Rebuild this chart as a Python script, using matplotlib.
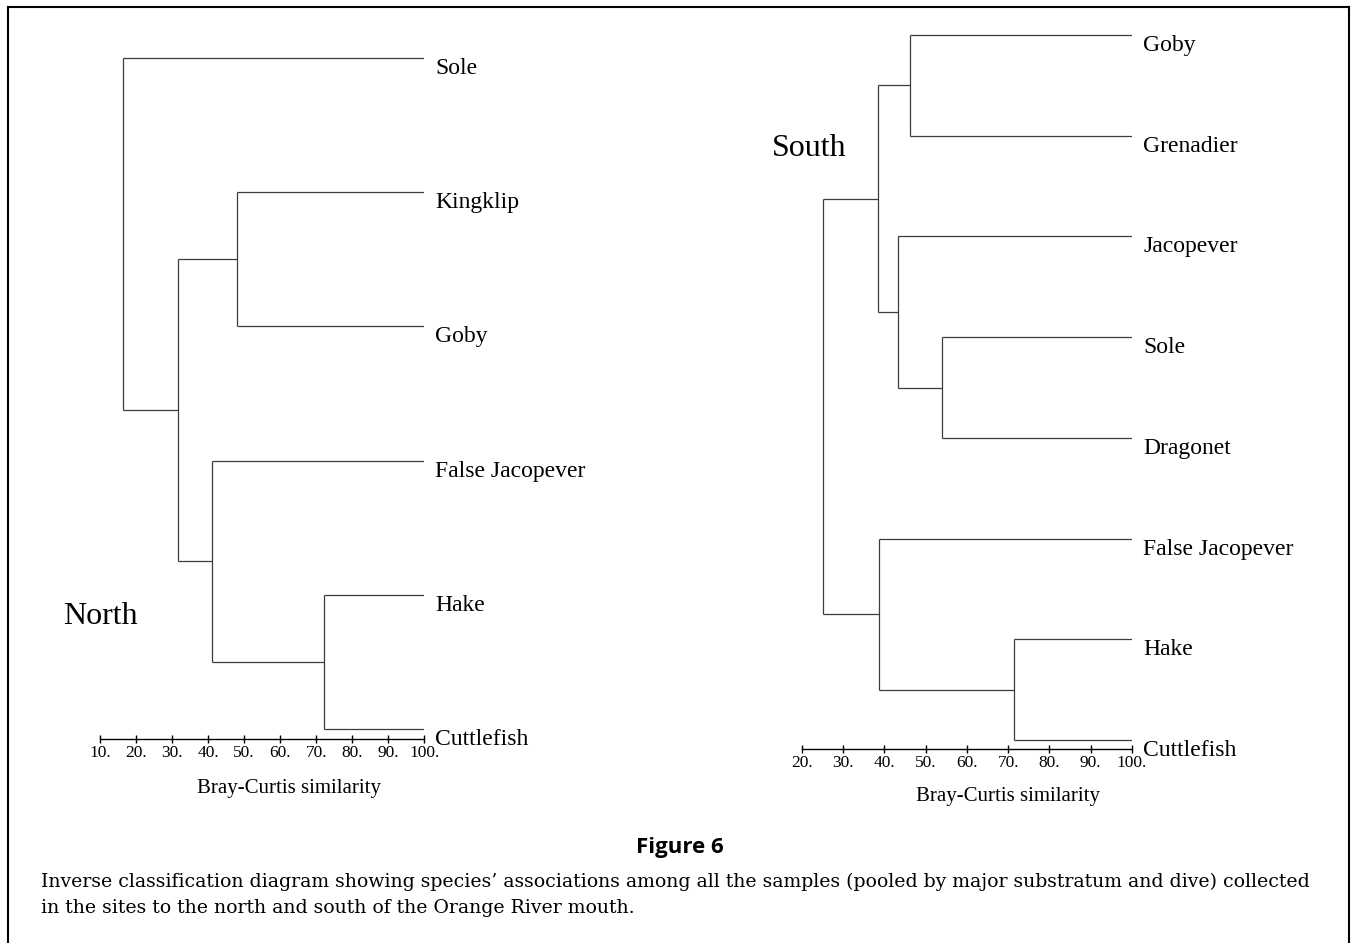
import matplotlib

matplotlib.use("Agg")
import matplotlib.pyplot as plt  # noqa: E402
from matplotlib.lines import Line2D  # noqa: E402
from matplotlib.ticker import FormatStrFormatter  # noqa: E402

SERIF = ["Liberation Serif", "DejaVu Serif"]
LINE = "#3c3c3c"

# --- data: leaves (top to bottom) and merges (a, b, similarity); ids >= n are earlier merges ---
north_leaves = ["Sole", "Kingklip", "Goby", "False Jacopever", "Hake", "Cuttlefish"]
north_merges = [(4, 5, 72.2), (1, 2, 48.1), (3, 6, 41.1), (7, 8, 31.7), (0, 9, 16.4)]
north_ticks = [10, 20, 30, 40, 50, 60, 70, 80, 90, 100]

south_leaves = ["Goby", "Grenadier", "Jacopever", "Sole", "Dragonet",
                "False Jacopever", "Hake", "Cuttlefish"]
south_merges = [(6, 7, 71.4), (3, 4, 54.1), (0, 1, 46.2), (2, 9, 43.4),
                (10, 11, 38.5), (5, 8, 38.8), (12, 13, 25.2)]
south_ticks = [20, 30, 40, 50, 60, 70, 80, 90, 100]

caption = ["Inverse classification diagram showing species\u2019 associations among all the samples "
           "(pooled by major substratum and dive) collected",
           "in the sites to the north and south of the Orange River mouth."]

W, H = 1351, 943
fig = plt.figure(figsize=(W / 100, H / 100), dpi=100)


def px_axes(left, right, top, bottom):
    return fig.add_axes([left / W, 1 - bottom / H, (right - left) / W, (bottom - top) / H])


def dendrogram(ax, leaves, merges, ticks, ypad_top, ypad_bot, label_xy):
    n = len(leaves)
    xs = {i: 100.0 for i in range(n)}
    ys = {i: float(i) for i in range(n)}
    for k, (a, b, lev) in enumerate(merges):
        ax.plot([lev, lev], [ys[a], ys[b]], color=LINE, lw=0.9, solid_capstyle="butt")
        ax.plot([lev, xs[a]], [ys[a], ys[a]], color=LINE, lw=0.9, solid_capstyle="butt")
        ax.plot([lev, xs[b]], [ys[b], ys[b]], color=LINE, lw=0.9, solid_capstyle="butt")
        xs[n + k] = lev
        ys[n + k] = (ys[a] + ys[b]) / 2
    for i, name in enumerate(leaves):
        ax.annotate(name, (100, i), xytext=(8, -11.5), textcoords="offset points",
                    va="baseline", ha="left", fontsize=17, family=SERIF, annotation_clip=False)
    ax.set_xlim(ticks[0], 100)
    ax.set_ylim(n - 1 + ypad_bot, -ypad_top)
    ax.set_xticks(ticks)
    ax.xaxis.set_major_formatter(FormatStrFormatter("%d."))
    ax.tick_params(axis="x", direction="inout", length=6, width=1, pad=1.5, labelsize=12.5)
    for t in ax.get_xticklabels():
        t.set_family(SERIF)
    ax.set_yticks([])
    for sp in ["top", "right", "left"]:
        ax.spines[sp].set_visible(False)
    ax.spines["bottom"].set_linewidth(1)
    ax.set_xlabel("Bray-Curtis similarity", fontsize=15, family=SERIF, va="center")
    ax.xaxis.set_label_coords(*label_xy)
    ax.patch.set_visible(False)


ax_n = px_axes(100, 424.3, 40, 739)
dendrogram(ax_n, north_leaves, north_merges, north_ticks, 18 / 134.2, 10 / 134.2,
           (0.582, -0.0715))
ax_s = px_axes(801.7, 1132, 20, 749)
dendrogram(ax_s, south_leaves, south_merges, south_ticks, 15 / 100.7, 9 / 100.7,
           (0.625, -0.0645))

fig.text(100 / W, 1 - 617 / H, "North", fontsize=23, family=SERIF, ha="center", va="center")
fig.text(809 / W, 1 - 148 / H, "South", fontsize=23, family=SERIF, ha="center", va="center")

fig.text(680 / W, 1 - 848 / H, "Figure 6", fontsize=16, fontweight="bold",
         family=["Open Sans", "DejaVu Sans"], ha="center", va="center")
for line, base in zip(caption, [887, 913]):
    fig.text(41 / W, 1 - base / H, line, fontsize=13.55, family=["DejaVu Serif"],
             ha="left", va="baseline")

# frame: left, top and right edges
for xd, yd in [([8, 8], [7, H]), ([8, 1349], [7, 7]), ([1349, 1349], [7, H])]:
    fig.add_artist(Line2D([x / W for x in xd], [1 - y / H for y in yd], color="black",
                          lw=1.5, transform=fig.transFigure))

fig.savefig("out.png", dpi=100)
